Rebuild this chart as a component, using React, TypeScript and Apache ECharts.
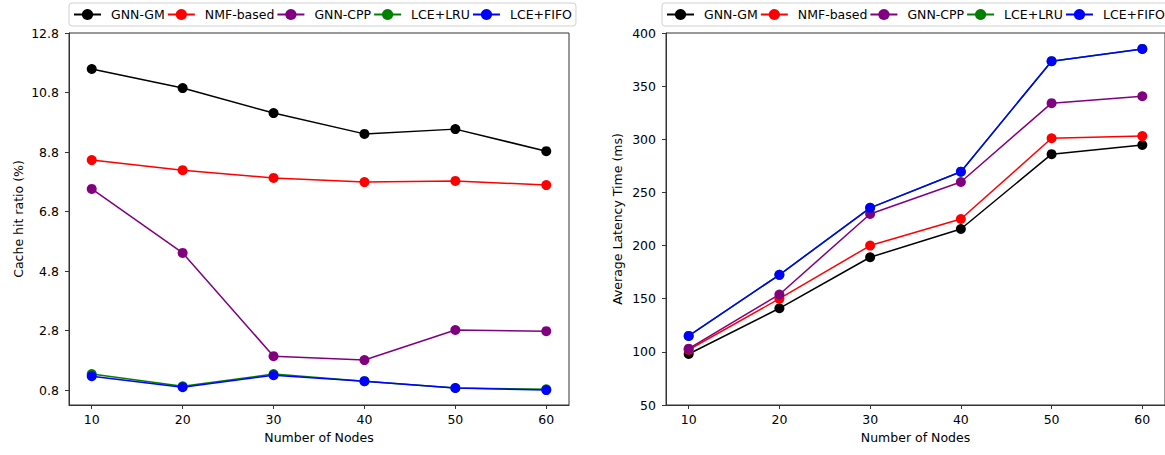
import React, { useEffect, useRef } from "react";
import * as echarts from "echarts";

const nodes = [10, 20, 30, 40, 50, 60];
const seriesNames = ["GNN-GM", "NMF-based", "GNN-CPP", "LCE+LRU", "LCE+FIFO"];
const seriesColors = ["#000000", "#ff0000", "#800080", "#008000", "#0000ff"];

const hitGnnGm = [11.59, 10.95, 10.11, 9.41, 9.57, 8.83];
const hitNmf = [8.53, 8.19, 7.93, 7.79, 7.83, 7.69];
const hitCpp = [7.56, 5.41, 1.94, 1.81, 2.82, 2.78];
const hitLru = [1.34, 0.93, 1.34, 1.1, 0.87, 0.83];
const hitFifo = [1.27, 0.9, 1.3, 1.1, 0.87, 0.8];

const latGnnGm = [98, 141, 189, 215.6, 286, 294.6];
const latNmf = [102, 150, 200, 225, 301, 303];
const latCpp = [103, 154, 229.7, 259.8, 334, 340.5];
const latLru = [115, 172.5, 235.5, 269.5, 373.5, 385];
const latFifo = [115, 172.5, 235.5, 269.5, 373.5, 385];

const xTicks = [10, 20, 30, 40, 50, 60];
const hitTicks = [0.8, 2.8, 4.8, 6.8, 8.8, 10.8, 12.8];

const FONT = "DejaVu Sans";
const FS = 12.5;

function pairs(ys: number[]) {
  return nodes.map((x, i) => [x, ys[i]]);
}

export default function App() {
  const ref = useRef<HTMLDivElement>(null);
  useEffect(() => {
    if (!ref.current) return;
    const chart = echarts.init(ref.current, null, { renderer: "svg" });
    const hit = [hitGnnGm, hitNmf, hitCpp, hitLru, hitFifo];
    const lat = [latGnnGm, latNmf, latCpp, latLru, latFifo];

    const xAxisBase = (gridIndex: number) => ({
      type: "value" as const,
      gridIndex,
      min: 7.5,
      max: 62.5,
      name: "Number of Nodes",
      nameLocation: "middle" as const,
      nameGap: 26,
      nameTextStyle: { fontFamily: FONT, fontSize: FS, color: "#000" },
      axisLine: { show: true, lineStyle: { color: "#333", width: 1 } },
      axisTick: { show: true, length: 4, customValues: xTicks, lineStyle: { color: "#333" } },
      axisLabel: { customValues: xTicks, fontFamily: FONT, fontSize: FS, color: "#000", margin: 8 },
      splitLine: { show: false },
    });

    const legendBase = (left: number) => ({
      left,
      top: 3,
      width: 540,
      orient: "horizontal" as const,
      itemWidth: 27,
      itemHeight: 14,
      itemGap: 2,
      padding: [5, 4, 5, 4],
      borderColor: "#d0d0d0",
      borderWidth: 1,
      borderRadius: 3,
      backgroundColor: "rgba(255,255,255,0.8)",
      textStyle: { fontFamily: FONT, fontSize: FS, color: "#000", padding: [0, 0, 0, 5] },
      data: seriesNames,
    });

    const mk = (name: string, color: string, data: number[], idx: number) => ({
      name,
      type: "line" as const,
      xAxisIndex: idx,
      yAxisIndex: idx,
      data: pairs(data),
      symbol: "circle",
      symbolSize: 10,
      itemStyle: { color },
      lineStyle: { color, width: 1.5 },
      emphasis: { disabled: true },
    });

    chart.setOption({
      animation: false,
      backgroundColor: "#fff",
      legend: [legendBase(69), legendBase(662)],
      grid: [
        { left: 69, right: 596, top: 33, bottom: 50, show: true, borderColor: "#333", borderWidth: 1 },
        { left: 666, right: 0, top: 33, bottom: 50, show: true, borderColor: "#333", borderWidth: 1 },
      ],
      xAxis: [xAxisBase(0), xAxisBase(1)],
      yAxis: [
        {
          type: "value",
          gridIndex: 0,
          min: 0.3,
          max: 12.8,
          name: "Cache hit ratio (%)",
          nameLocation: "middle",
          nameGap: 44,
          nameTextStyle: { fontFamily: FONT, fontSize: FS, color: "#000" },
          axisLine: { show: true, lineStyle: { color: "#333", width: 1 } },
          axisTick: { show: true, length: 4, customValues: hitTicks, lineStyle: { color: "#333" } },
          axisLabel: {
            customValues: hitTicks,
            fontFamily: FONT,
            fontSize: FS,
            color: "#000",
            margin: 10,
            formatter: (v: number) => v.toFixed(1),
          },
          splitLine: { show: false },
        },
        {
          type: "value",
          gridIndex: 1,
          min: 50,
          max: 400,
          interval: 50,
          name: "Average Latency Time (ms)",
          nameLocation: "middle",
          nameGap: 42,
          nameTextStyle: { fontFamily: FONT, fontSize: FS, color: "#000" },
          axisLine: { show: true, lineStyle: { color: "#333", width: 1 } },
          axisTick: { show: true, length: 4, lineStyle: { color: "#333" } },
          axisLabel: { fontFamily: FONT, fontSize: FS, color: "#000", margin: 10 },
          splitLine: { show: false },
        },
      ],
      series: [
        ...seriesNames.map((n, i) => mk(n, seriesColors[i], hit[i], 0)),
        ...seriesNames.map((n, i) => mk(n, seriesColors[i], lat[i], 1)),
      ],
    });
    return () => chart.dispose();
  }, []);
  return (
    <div
      ref={ref}
      style={{ position: "fixed", left: 0, top: 0, width: 1165, height: 455 }}
    />
  );
}
